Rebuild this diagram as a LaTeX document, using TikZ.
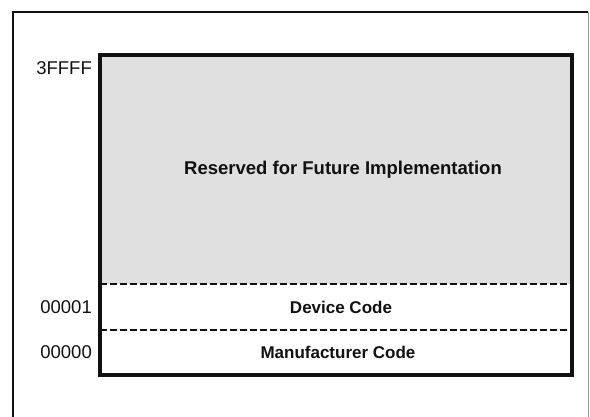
\documentclass[tikz,border=0pt]{standalone}
\usepackage{fontspec}
\setmainfont{Liberation Sans}
\usetikzlibrary{positioning, calc, backgrounds}
\definecolor{Ink}   {HTML}{111111}
\definecolor{Dots}  {HTML}{E0E0E0}
\definecolor{Edge}  {HTML}{9A9A9A}
\tikzset{
  region/.style args={#1/#2}{
    rectangle, fill=#1, draw=none,
    minimum width=472pt, minimum height=#2,
    inner sep=0pt, outer sep=0pt,
  },
  rtext/.style={
    font=\fontsize{#1}{20}\selectfont\bfseries, text=Ink,
  },
  addr/.style={
    font=\fontsize{18.5}{20}\selectfont, text=Ink,
    inner sep=0pt,
  },
  sep/.style={
    dashed, dash pattern=on 7pt off 3pt, line width=1.3pt, draw=Ink,
  },
  frame/.style={
    line width=2.6pt, draw=Ink,
  },
}
\begin{document}
\begin{tikzpicture}[x=1pt,y=1pt]
  \useasboundingbox (0,0) rectangle (590,417);

  % memory regions, top to bottom
  \node[region=Dots/229pt, anchor=north west] (rsv) at (100,362) {};
  \node[region=white/46pt, below=0pt of rsv] (dev) {};
  \node[region=white/45pt, below=0pt of dev] (mfr) {};

  % region texts
  \node[rtext=18.5] (rsvtxt) at ($(rsv.center)+(7,0)$)
        {Reserved for Future Implementation};
  \node[rtext=17] (devtxt) at ($(dev.center)+(5,0)$) {Device Code};
  \node[rtext=17] (mfrtxt) at ($(mfr.center)+(2,0)$) {Manufacturer Code};

  % boundaries
  \draw[sep] (rsv.south west) -- (rsv.south east);
  \draw[sep] (dev.south west) -- (dev.south east);
  \draw[line width=3.6pt, draw=Ink] (rsv.north west) rectangle (mfr.south east);

  % addresses
  \node[addr, anchor=east] (top)  at ($(rsv.north west)+(-8,-13)$) {3FFFF};
  \node[addr, left=8pt of dev.west] (one)  {00001};
  \node[addr, left=8pt of mfr.west] (zero) {00000};

  % outer frame, cut off at right and bottom
  \draw[frame] (13,-5) -- (13,405) -- (588,405);
  \draw[line width=0.8pt, draw=Edge] (588,405) -- (588,-5);
\end{tikzpicture}
\end{document}
